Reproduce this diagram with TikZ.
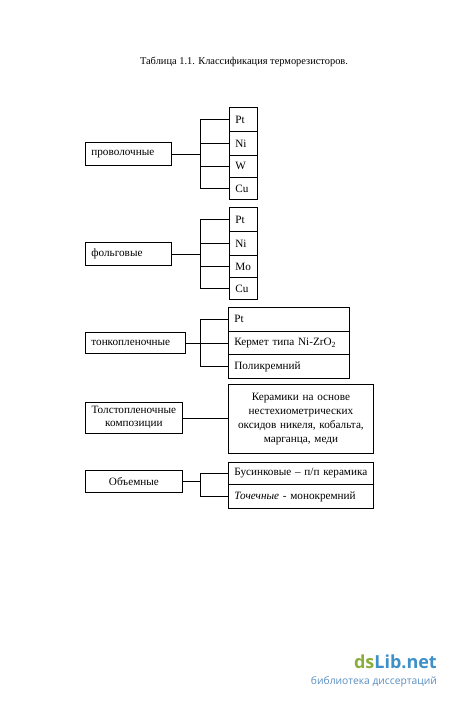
\documentclass[tikz,border=0pt]{standalone}
\usepackage{fontspec}
\setmainfont{Liberation Serif}
\newfontfamily\wmfont{Open Sans}
\definecolor{wmgreen}{HTML}{8AAE3C}
\definecolor{wmblue}{HTML}{3E90C8}
\definecolor{wmblue2}{HTML}{5A8FC2}
\begin{document}
\begin{tikzpicture}[x=1pt,y=-1pt,
  bx/.style={draw, line width=0.8pt, anchor=north west, inner xsep=6pt, inner ysep=0pt, font=\fontsize{11.2}{13}\selectfont},
  ln/.style={line width=0.8pt}]
\useasboundingbox[fill=white] (0,0) rectangle (450,701);
\node[font=\fontsize{10.4}{12}\selectfont] (title) at (244,62) {Таблица 1.1. Классификация терморезисторов.};
\coordinate (bk) at (200,0);
% проволочные
\node[bx, minimum height=23pt, text width=74pt, align=left] (prov) at (85,142) {проволочные};
\node[bx, minimum height=24pt, text width=16pt, align=left] (p1) at (229,107) {Pt};
\node[bx, minimum height=24pt, text width=16pt, align=left] (p2) at (229,131) {Ni};
\node[bx, minimum height=22pt, text width=16pt, align=left] (p3) at (229,155) {W};
\node[bx, minimum height=22pt, text width=16pt, align=left] (p4) at (229,177) {Cu};
\draw[ln] (prov.east) -- (prov.east -| bk);
\draw[ln] (p1.west) -- (p1.west -| bk) |- (p4.west);
\draw[ln] (p2.west) -- (p2.west -| bk);
\draw[ln] (p3.west) -- (p3.west -| bk);
% фольговые
\node[bx, minimum height=23pt, text width=74pt, align=left] (folg) at (85,242) {фольговые};
\node[bx, minimum height=24pt, text width=16pt, align=left] (f1) at (229,207) {Pt};
\node[bx, minimum height=24pt, text width=16pt, align=left] (f2) at (229,231) {Ni};
\node[bx, minimum height=22pt, text width=16pt, align=left] (f3) at (229,255) {Mo};
\node[bx, minimum height=22pt, text width=16pt, align=left] (f4) at (229,277) {Cu};
\draw[ln] (folg.east) -- (folg.east -| bk);
\draw[ln] (f1.west) -- (f1.west -| bk) |- (f4.west);
\draw[ln] (f2.west) -- (f2.west -| bk);
\draw[ln] (f3.west) -- (f3.west -| bk);
% тонкопленочные
\node[bx, minimum height=21pt, text width=88pt, align=left] (tonk) at (85,332) {тонкопленочные};
\node[bx, minimum height=23.7pt, text width=109pt, align=left] (t1) at (228,307) {Pt};
\node[bx, minimum height=23.7pt, text width=109pt, align=left] (t2) at (228,330.7) {Кермет типа Ni-ZrO\textsubscript{2}};
\node[bx, minimum height=23.7pt, text width=109pt, align=left] (t3) at (228,354.3) {Поликремний};
\draw[ln] (tonk.east) -- (tonk.east -| t2.west);
\draw[ln] (t1.west) -- (t1.west -| bk) |- (t3.west);
% Толстопленочные
\node[bx, minimum height=31pt, text width=85pt, align=center, font=\fontsize{11.2}{13}\selectfont] (tols) at (85,402) {Толстопленочные\\композиции};
\node[bx, minimum height=69pt, text width=133pt, align=center, font=\fontsize{11.2}{14}\selectfont] (ker) at (228,384) {Керамики на основе\\нестехиометрических\\оксидов никеля, кобальта,\\марганца, меди};
\draw[ln] (tols.east) -- (tols.east -| ker.west);
% Объемные
\node[bx, minimum height=22pt, text width=85pt, align=center] (obem) at (85,470) {Объемные};
\node[bx, minimum height=22pt, text width=133pt, align=left] (o1) at (228,462) {Бусинковые – п/п керамика};
\node[bx, minimum height=24pt, text width=133pt, align=left] (o2) at (228,484) {\textit{Точечные} - монокремний};
\draw[ln] (obem.east) -- (obem.east -| bk);
\draw[ln] (o1.west) -- (o1.west -| bk) |- (o2.west);
% watermark
\node[anchor=base east, inner sep=0pt, font=\wmfont\bfseries\fontsize{18}{20}\selectfont] (wm1) at (437,668) {\textcolor{wmgreen}{ds}\textcolor{wmblue}{Lib.net}};
\node[anchor=base east, inner sep=0pt, text=wmblue2, font=\wmfont\fontsize{10.3}{12}\selectfont] (wm2) at (437,684) {библиотека диссертаций};
\end{tikzpicture}
\end{document}
